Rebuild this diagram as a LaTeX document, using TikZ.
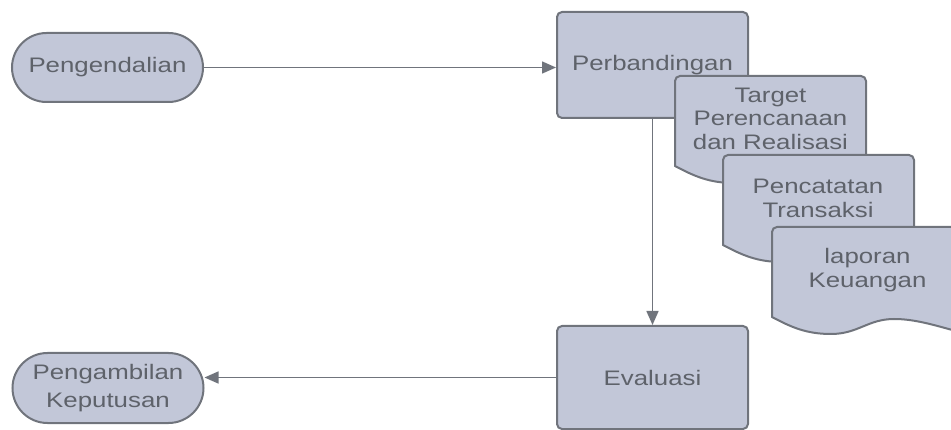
\documentclass[tikz,border=0pt]{standalone}
\usepackage{fontspec}
\setmainfont{Liberation Sans}[FakeStretch=1.23]
\usetikzlibrary{arrows.meta,shapes.misc}
\definecolor{boxfill}{HTML}{C2C7D8}
\definecolor{boxline}{HTML}{70747C}
\definecolor{txt}{HTML}{5E626A}
\newcommand\docshape[2]{%
  \draw[docbody] (#1,#2+90) -- (#1,#2+40) [rounded corners=5pt] -- (#1,#2) -- (#1+191,#2) -- (#1+191,#2+40) [sharp corners] -- (#1+191,#2+106)
    .. controls (#1+162,#2+98) and (#1+143,#2+92) .. (#1+122,#2+92)
    .. controls (#1+96,#2+92) and (#1+86,#2+107) .. (#1+59,#2+107)
    .. controls (#1+34,#2+107) and (#1+19,#2+100) .. (#1,#2+90) -- cycle;}
\begin{document}
\begin{tikzpicture}[x=1pt,y=-1pt,
  shapebase/.style={draw=boxline, fill=boxfill, line width=2pt, text=txt},
  term/.style={shapebase, rounded rectangle, minimum width=191pt, minimum height=69pt, inner sep=0pt, align=center, font=\fontsize{21}{28}\selectfont},
  proc/.style={shapebase, rectangle, rounded corners=5pt, minimum width=191pt, inner sep=0pt, font=\fontsize{21}{25}\selectfont},
  docbody/.style={shapebase},
  doctext/.style={text=txt, align=center, inner sep=0pt, font=\fontsize{21}{23.5}\selectfont},
  conn/.style={draw=boxline, line width=1.5pt, -{Triangle[length=14pt,width=12pt]}}]
\useasboundingbox (0,0) rectangle (951,430);
\clip (0,0) rectangle (951,430);
\node[term] (pe) at (107.5,67.5) {Pengendalian};
\node[term, minimum height=70pt] (pk) at (108,388) {Pengambilan\\Keputusan};
\node[proc, minimum height=106pt] (pb) at (652.5,65) {Perbandingan};
\node[proc, minimum height=103pt] (ev) at (652.5,377.5) {Evaluasi};
\docshape{675}{76}
\node[doctext] (d1) at (770.5,118.5) {Target\\Perencanaan\\dan Realisasi};
\docshape{723}{155}
\node[doctext] (d2) at (818,198.5) {Pencatatan\\Transaksi};
\docshape{772}{227}
\node[doctext] (d3) at (867.5,270) {laporan\\Keuangan};
\draw[conn] (pe.east) -- (pe.east -| pb.west);
\draw[conn] (pb.south) -- (ev.north);
\draw[conn] (ev.west) -- (ev.west -| pk.east);
\end{tikzpicture}
\end{document}
